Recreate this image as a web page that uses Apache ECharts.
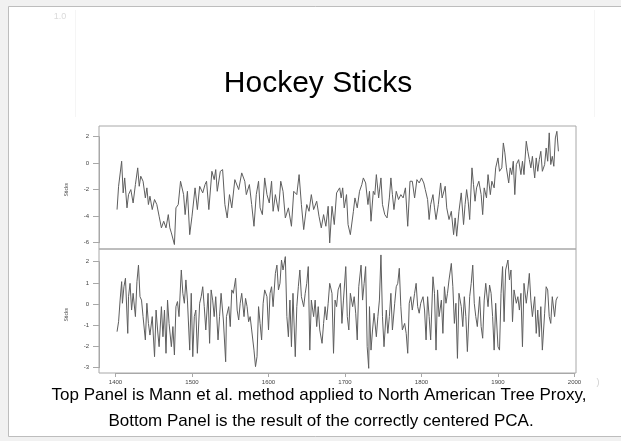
<!DOCTYPE html>
<html>
<head>
<meta charset="utf-8">
<script src="https://cdn.jsdelivr.net/npm/echarts@6/dist/echarts.min.js"></script>
<style>
html,body{margin:0;padding:0;background:#f1f1f1;}
#c{width:621px;height:441px;}
</style>
</head>
<body>
<div id="c"></div>
<script>
// ---- Data ----
const titleText = "Hockey Sticks";
const captionLines = [
  "Top Panel is Mann et al. method applied to North American Tree Proxy,",
  "Bottom Panel is the result of the correctly centered PCA."
];
const yName = "Sticks";
const xTickRange = [1400, 2000, 100];   // min, max, step of year tick labels
const topTickRange = [-6, 2, 2];        // top panel y tick labels
const botTickRange = [-3, 2, 1];        // bottom panel y tick labels

const topYears = [
1402,1404,1408,1410,1412,1415,1417,1420,1423,1426,
1429,1431,1433,1436,1439,1441,1443,1445,1448,1451,
1454,1457,1460,1463,1466,1469,1471,1473,1477,1479,
1482,1485,1489,1491,1494,1497,1500,1504,1507,1510,
1514,1517,1519,1522,1526,1529,1531,1533,1537,1540,
1543,1546,1549,1552,1556,1561,1565,1569,1571,1575,
1578,1581,1584,1587,1589,1592,1595,1598,1601,1604,
1606,1609,1613,1616,1619,1622,1626,1630,1633,1637,
1640,1643,1646,1650,1653,1656,1659,1663,1666,1669,
1672,1675,1678,1680,1683,1686,1689,1693,1695,1697,
1699,1702,1704,1707,1711,1713,1716,1719,1722,1724,
1727,1730,1732,1734,1737,1739,1741,1744,1747,1749,
1752,1755,1758,1760,1762,1764,1767,1770,1773,1776,
1779,1782,1785,1788,1791,1794,1797,1800,1803,1805,
1808,1810,1812,1815,1817,1819,1822,1825,1827,1831,
1833,1836,1839,1842,1844,1846,1849,1852,1855,1857,
1859,1861,1863,1866,1868,1870,1872,1875,1878,1880,
1882,1885,1887,1890,1892,1895,1897,1900,1902,1905,
1907,1909,1911,1914,1916,1918,1920,1922,1924,1927,
1930,1932,1934,1937,1939,1941,1943,1945,1948,1950,
1952,1954,1956,1958,1961,1963,1965,1967,1969,1971,
1973,1975,1977,1979];
const topValues = [
-3.50,-1.74,0.15,-2.24,-1.11,-3.37,-2.37,-1.99,-3.00,-1.61,
-0.35,-1.74,-0.98,-1.36,-2.62,-1.86,-3.12,-2.49,-3.50,-2.74,
-3.12,-4.00,-4.88,-4.38,-4.88,-3.88,-4.88,-5.26,-6.14,-3.37,
-3.12,-1.36,-2.37,-3.88,-2.12,-5.39,-4.00,-1.86,-3.50,-1.74,
-2.24,-1.61,-1.36,-3.50,-0.61,-1.24,-0.48,-2.12,-0.61,-0.48,
-3.12,-4.13,-2.37,-3.37,-1.24,-1.99,-0.73,-1.36,-2.37,-1.61,
-3.12,-4.76,-2.37,-1.36,-3.37,-3.88,-1.11,-2.37,-3.00,-1.36,
-3.63,-2.37,-3.63,-1.36,-2.12,-4.13,-3.37,-4.76,-2.12,-2.37,
-0.86,-3.12,-5.01,-3.12,-3.63,-2.37,-3.50,-2.87,-4.00,-4.88,
-3.88,-4.76,-3.25,-6.02,-3.25,-4.63,-2.24,-1.86,-2.62,-1.86,
-3.37,-2.37,-4.63,-5.39,-3.63,-2.62,-3.37,-2.12,-1.61,-1.11,
-1.49,-3.12,-2.12,-4.38,-2.12,-2.37,-0.86,-2.62,-1.11,-3.12,
-3.88,-4.13,-2.62,-1.11,-2.37,-3.50,-2.12,-2.74,-2.37,-2.62,
-1.86,-4.76,-1.36,-1.36,-2.62,-1.24,-1.49,-1.11,-1.49,-1.99,
-2.74,-4.25,-3.12,-2.37,-3.37,-4.25,-3.12,-1.49,-2.62,-1.74,
-3.37,-4.25,-3.63,-5.39,-4.13,-5.51,-3.63,-2.24,-4.63,-3.12,
-1.99,-2.87,-4.25,-0.35,-1.61,-2.87,-1.86,-1.36,-2.37,-3.88,
-1.86,-2.62,-0.86,-2.37,-1.36,-1.86,-0.35,0.40,-0.61,-0.35,
1.53,0.78,-0.35,-1.49,-0.35,-0.86,0.15,-2.37,-0.10,0.27,
-0.86,0.15,-0.86,1.66,0.90,0.27,-0.35,0.52,-1.11,0.40,
-0.61,0.27,0.90,-0.61,-0.10,1.15,0.15,2.29,-0.10,0.52,
-0.23,1.91,2.41,0.90];

const botYears = [
1402,1404,1406,1408,1409,1411,1413,1416,1417,1419,
1421,1423,1426,1428,1430,1432,1434,1436,1439,1441,
1443,1445,1448,1451,1453,1455,1457,1460,1462,1464,
1466,1468,1470,1473,1475,1477,1479,1481,1483,1486,
1488,1490,1492,1494,1497,1499,1501,1503,1505,1507,
1510,1512,1514,1516,1518,1521,1523,1525,1527,1529,
1531,1534,1536,1538,1541,1544,1545,1548,1550,1552,
1554,1557,1559,1561,1563,1565,1568,1570,1572,1574,
1576,1578,1581,1583,1585,1587,1589,1591,1593,1595,
1598,1600,1602,1604,1606,1609,1611,1613,1615,1617,
1619,1622,1624,1626,1628,1630,1632,1635,1637,1639,
1641,1643,1646,1648,1650,1652,1654,1656,1659,1661,
1663,1665,1667,1670,1672,1674,1676,1678,1680,1683,
1685,1687,1689,1691,1694,1696,1698,1701,1703,1705,
1707,1710,1712,1714,1716,1718,1721,1723,1725,1727,
1729,1731,1732,1734,1736,1738,1741,1743,1745,1747,
1749,1751,1754,1756,1758,1760,1762,1765,1767,1769,
1771,1773,1775,1778,1780,1782,1784,1786,1788,1791,
1793,1795,1797,1799,1802,1804,1806,1808,1810,1812,
1815,1817,1819,1821,1823,1826,1828,1830,1832,1834,
1836,1839,1841,1843,1845,1847,1849,1852,1854,1856,
1858,1860,1863,1865,1867,1869,1871,1873,1876,1878,
1880,1882,1884,1887,1889,1891,1893,1895,1897,1900,
1902,1904,1906,1908,1910,1913,1915,1917,1919,1921,
1924,1926,1928,1930,1932,1934,1937,1939,1941,1943,
1945,1948,1950,1952,1954,1956,1958,1961,1963,1965,
1967,1969,1971,1974,1976,1978];
const botValues = [
-1.30,-0.83,0.19,1.06,0.04,0.82,1.22,-1.38,0.35,0.98,
-0.28,0.51,-0.59,1.06,1.84,0.35,0.19,-0.59,-1.69,0.04,
-0.91,-1.46,-0.59,-2.48,-0.28,-1.22,-2.01,-0.12,-1.54,-0.28,
-2.32,0.19,-0.91,-2.01,-1.06,-2.40,-0.12,0.12,-0.59,1.61,
0.51,0.04,1.14,0.19,-2.17,0.51,-2.48,-0.59,-0.28,-2.32,
0.04,0.35,0.82,-0.12,-1.22,0.51,-1.85,0.67,0.19,-0.59,
0.35,-1.69,-0.59,0.51,-0.75,-2.72,-0.59,-0.12,-1.06,0.67,
0.51,1.22,-0.28,-0.75,0.04,0.51,-0.59,0.27,-0.12,-0.83,
-0.59,-1.22,-2.17,-2.95,-2.48,-0.12,-0.91,-1.69,0.04,0.67,
0.35,-1.22,0.51,0.82,-0.12,1.45,1.84,0.67,0.98,2.08,
1.61,2.24,-0.59,-1.54,0.19,-2.01,0.51,-2.48,-0.12,0.82,
1.61,0.35,-0.12,0.51,0.98,1.77,-2.17,0.19,-0.59,0.19,
-1.06,-0.12,-1.22,-1.85,-0.91,-0.12,-0.75,0.04,0.98,0.51,
-2.32,0.19,-0.12,0.67,0.98,-0.91,0.19,1.77,-0.59,-1.22,
0.51,-0.12,0.35,-0.43,-1.69,0.82,1.84,0.19,0.98,1.77,
-2.01,-3.03,-0.12,-2.17,-1.22,-0.43,-1.54,-0.59,0.19,2.32,
-0.59,-2.01,-0.28,-1.38,-0.59,0.51,-1.22,0.04,0.82,0.98,
1.69,-0.12,-1.22,-0.91,-1.38,-2.32,0.04,0.35,-0.28,0.51,
0.98,-0.12,-0.43,0.04,0.35,-0.28,-1.69,0.35,-0.59,-1.69,
1.29,0.51,-2.17,0.67,-0.59,0.19,-1.38,0.82,0.04,0.51,
1.14,1.92,0.82,-0.91,0.04,-2.56,0.51,-0.12,-1.06,0.35,
-0.59,-2.24,0.35,0.98,1.84,0.04,-0.59,-1.06,0.35,-1.06,
-1.61,0.19,0.98,-0.12,0.90,0.51,-0.59,-2.17,0.04,-2.01,
-2.17,0.51,1.77,-0.83,1.61,2.08,1.14,1.61,-0.83,0.67,
0.04,0.35,-0.28,0.51,-2.01,0.98,0.04,0.67,1.45,0.19,
-0.59,0.35,-1.38,-0.28,-1.54,-0.12,-2.17,-0.43,0.82,0.67,
-0.59,-0.91,0.35,-0.59,0.19,0.35];

// ---- Build chart ----
function pairs(xs, ys){ const n=Math.min(xs.length, ys.length); const out=[]; for(let i=0;i<n;i++) out.push([xs[i], ys[i]]); return out; }

const FONT = '"Liberation Sans", Arial, sans-serif';
const BOX = '#a8a8a8';
const LINE = '#5e5e5e';
const TXT = '#444';
const plain = v => String(v);

// panel geometry (pixels)
const L = 99, W = 477;
const TOP1 = 126, H1 = 123;   // top panel
const TOP2 = 249, H2 = 124;   // bottom panel
// data-extent of each panel (R-style padding)
const xExt = [1378.4, 2002];
const topExt = [-6.475, 2.81];
const botExt = [-3.25, 2.60];
// pixel placement of the tick spans
const pxPerYear = W / (xExt[1]-xExt[0]);
const xTickLeft = L + (xTickRange[0]-xExt[0])*pxPerYear;
const xTickW = (xTickRange[1]-xTickRange[0])*pxPerYear;
const topPxPer = H1/(topExt[1]-topExt[0]);
const topTickTop = TOP1 + (topExt[1]-topTickRange[1])*topPxPer;
const topTickH = (topTickRange[1]-topTickRange[0])*topPxPer;
const botPxPer = H2/(botExt[1]-botExt[0]);
const botTickTop = TOP2 + (botExt[1]-botTickRange[1])*botPxPer;
const botTickH = (botTickRange[1]-botTickRange[0])*botPxPer;

const chart = echarts.init(document.getElementById('c'), null, {renderer:'canvas'});
chart.setOption({
  animation:false,
  backgroundColor:'#f1f1f1',
  graphic:[
    {type:'rect', shape:{x:8.5,y:6.5,width:640,height:430}, style:{fill:'#ffffff', stroke:'#bdbdbd', lineWidth:1}, z:-10},
    {type:'text', x:60, y:17, style:{text:'1.0', fill:'#dadada', font:'9px '+FONT, textAlign:'center', textVerticalAlign:'middle'}, z:-5},
    {type:'line', shape:{x1:75.5,y1:10,x2:75.5,y2:117}, style:{stroke:'#f5f5f5', lineWidth:1}, z:-5},
    {type:'line', shape:{x1:594.5,y1:10,x2:594.5,y2:117}, style:{stroke:'#f5f5f5', lineWidth:1}, z:-5},
    {type:'text', x:318, y:84, style:{text:titleText, fill:'#000', font:'30px '+FONT, textAlign:'center', textVerticalAlign:'middle'}},
    {type:'text', x:319, y:395, style:{text:captionLines[0], fill:'#000', font:'17px '+FONT, textAlign:'center', textVerticalAlign:'middle'}},
    {type:'text', x:321, y:421, style:{text:captionLines[1], fill:'#000', font:'17px '+FONT, textAlign:'center', textVerticalAlign:'middle'}},
    {type:'text', x:598, y:383, style:{text:')', fill:'#cfcfcf', font:'9px '+FONT, textAlign:'center', textVerticalAlign:'middle'}}
  ],
  grid:[
    {left:L, top:TOP1, width:W, height:H1, show:true, borderColor:BOX, borderWidth:1, backgroundColor:'transparent'},
    {left:L, top:TOP2, width:W, height:H2, show:true, borderColor:BOX, borderWidth:1, backgroundColor:'transparent'},
    {left:L, top:topTickTop, width:W, height:topTickH},
    {left:L, top:botTickTop, width:W, height:botTickH},
    {left:xTickLeft, top:TOP2+H2-10, width:xTickW, height:10}
  ],
  xAxis:[
    {gridIndex:0, type:'value', min:xExt[0], max:xExt[1], show:false},
    {gridIndex:1, type:'value', min:xExt[0], max:xExt[1], show:false},
    {gridIndex:2, type:'value', min:0, max:1, show:false},
    {gridIndex:3, type:'value', min:0, max:1, show:false},
    {gridIndex:4, type:'value', min:xTickRange[0], max:xTickRange[1], interval:xTickRange[2], position:'bottom',
      axisLine:{show:true, lineStyle:{color:BOX, width:1}},
      axisTick:{show:true, inside:false, length:4, lineStyle:{color:BOX}},
      axisLabel:{show:true, margin:6, fontSize:6, color:TXT, fontFamily:FONT, formatter:plain, showMinLabel:true, showMaxLabel:true},
      splitLine:{show:false}}
  ],
  yAxis:[
    {gridIndex:0, type:'value', min:topExt[0], max:topExt[1], show:false},
    {gridIndex:1, type:'value', min:botExt[0], max:botExt[1], show:false},
    {gridIndex:2, type:'value', min:topTickRange[0], max:topTickRange[1], interval:topTickRange[2],
      axisLine:{show:true, lineStyle:{color:BOX}}, axisTick:{show:true, inside:false, length:6, lineStyle:{color:BOX}},
      axisLabel:{show:true, margin:10, fontSize:6, color:TXT, fontFamily:FONT, formatter:plain, showMinLabel:true, showMaxLabel:true},
      splitLine:{show:false},
      name:yName, nameLocation:'middle', nameRotate:90, nameGap:30, nameTextStyle:{fontSize:5, color:TXT, fontFamily:FONT}},
    {gridIndex:3, type:'value', min:botTickRange[0], max:botTickRange[1], interval:botTickRange[2],
      axisLine:{show:true, lineStyle:{color:BOX}}, axisTick:{show:true, inside:false, length:6, lineStyle:{color:BOX}},
      axisLabel:{show:true, margin:10, fontSize:6, color:TXT, fontFamily:FONT, formatter:plain, showMinLabel:true, showMaxLabel:true},
      splitLine:{show:false},
      name:yName, nameLocation:'middle', nameRotate:90, nameGap:30, nameTextStyle:{fontSize:5, color:TXT, fontFamily:FONT}},
    {gridIndex:4, type:'value', min:0, max:1, show:false}
  ],
  series:[
    {type:'line', xAxisIndex:0, yAxisIndex:0, data:pairs(topYears, topValues), showSymbol:false, symbol:'none',
      lineStyle:{color:LINE, width:1}, silent:true, clip:true},
    {type:'line', xAxisIndex:1, yAxisIndex:1, data:pairs(botYears, botValues), showSymbol:false, symbol:'none',
      lineStyle:{color:LINE, width:1}, silent:true, clip:true}
  ]
});
</script>
</body>
</html>
